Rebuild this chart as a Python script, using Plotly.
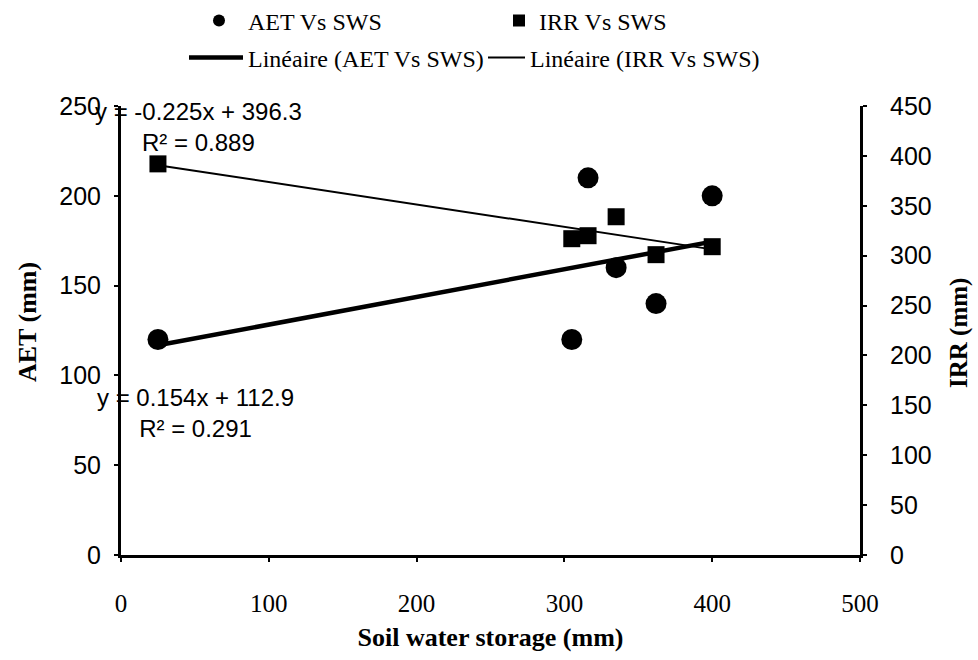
import plotly.graph_objects as go

# Soil water storage (mm) for each observation
sws = [25, 305, 316, 335, 362, 400]
# Actual evapotranspiration (mm), left axis
aet = [120, 120, 210, 160, 140, 200]
# Irrigation requirement (mm), right axis
irr = [392, 317, 320, 339, 301, 309]

# Linear fits reported on the chart
aet_slope, aet_intercept, aet_r2 = 0.154, 112.9, 0.291
irr_slope, irr_intercept, irr_r2 = -0.225, 396.3, 0.889

x_ticks = [0, 100, 200, 300, 400, 500]
aet_ticks = [0, 50, 100, 150, 200, 250]
irr_ticks = [0, 50, 100, 150, 200, 250, 300, 350, 400, 450]

SERIF = "Liberation Serif"
SANS = "Liberation Sans"
INK = "black"

fit_x = [min(sws), max(sws)]
aet_fit = [aet_slope * x + aet_intercept for x in fit_x]
irr_fit = [irr_slope * x + irr_intercept for x in fit_x]

fig = go.Figure()

fig.add_trace(go.Scatter(
    x=sws, y=aet, mode="markers", name="AET Vs SWS",
    marker=dict(symbol="circle", size=21, color=INK),
    legend="legend", yaxis="y",
))
fig.add_trace(go.Scatter(
    x=sws, y=irr, mode="markers", name="IRR Vs SWS",
    marker=dict(symbol="square", size=17, color=INK),
    legend="legend2", yaxis="y2",
))
fig.add_trace(go.Scatter(
    x=fit_x, y=aet_fit, mode="lines", name="Linéaire (AET Vs SWS)",
    line=dict(color=INK, width=4.5),
    legend="legend3", yaxis="y",
))
fig.add_trace(go.Scatter(
    x=fit_x, y=irr_fit, mode="lines", name="Linéaire (IRR Vs SWS)",
    line=dict(color=INK, width=2),
    legend="legend4", yaxis="y2",
))

# plot area in pixels, used to place the legend entries and labels
L, R, T, B = 121, 860, 106, 555
W, H = R - L, B - T


def px_x(p):
    return (p - L) / W


def px_y(p):
    return (B - p) / H


legend_font = dict(family=SERIF, size=24, color=INK)
legend_common = dict(orientation="h", xanchor="left", yanchor="middle",
                     bgcolor="rgba(0,0,0,0)", borderwidth=0, font=legend_font)

fig.update_layout(
    width=978, height=660,
    margin=dict(l=L, r=978 - R, t=T, b=660 - B, autoexpand=False),
    paper_bgcolor="white", plot_bgcolor="white",
    showlegend=True,
    legend=dict(x=px_x(190), y=px_y(21), itemwidth=48,
                itemsizing="constant", **legend_common),
    legend2=dict(x=px_x(499), y=px_y(21), itemsizing="constant",
                 **legend_common),
    legend3=dict(x=px_x(184), y=px_y(58), itemwidth=54,
                 itemsizing="trace", **legend_common),
    legend4=dict(x=px_x(483), y=px_y(58), itemwidth=37,
                 itemsizing="trace", **legend_common),
    xaxis=dict(
        range=[0, 500], tickvals=x_ticks, showgrid=False, zeroline=False,
        showline=True, linecolor=INK, linewidth=3,
        ticks="outside", ticklen=4, tickwidth=2, tickcolor=INK,
        ticklabelstandoff=20,
        tickfont=dict(family=SERIF, size=25, color=INK),
        title=dict(text="<b>Soil water storage (mm)</b>",
                   font=dict(family=SERIF, size=26, color=INK), standoff=12),
    ),
    yaxis=dict(
        range=[0, 250], tickvals=aet_ticks, showgrid=False, zeroline=False,
        showline=True, linecolor=INK, linewidth=3,
        ticks="outside", ticklen=4, tickwidth=2, tickcolor=INK,
        ticklabelstandoff=8,
        tickfont=dict(family=SANS, size=25, color=INK),
    ),
    yaxis2=dict(
        range=[0, 450], tickvals=irr_ticks, overlaying="y", side="right",
        showgrid=False, zeroline=False,
        showline=True, linecolor=INK, linewidth=3,
        ticks="outside", ticklen=4, tickwidth=2, tickcolor=INK,
        ticklabelstandoff=18,
        tickfont=dict(family=SANS, size=25, color=INK),
    ),
)

# axis titles for the two value axes
title_font = dict(family=SERIF, size=26, color=INK)
fig.add_annotation(text="<b>AET (mm)</b>", xref="paper", yref="paper",
                   x=px_x(27), y=px_y(322), xanchor="center", yanchor="middle",
                   textangle=-90, showarrow=False, font=title_font)
fig.add_annotation(text="<b>IRR (mm)</b>", xref="paper", yref="paper",
                   x=px_x(959), y=px_y(333), xanchor="center", yanchor="middle",
                   textangle=-90, showarrow=False,
                   font=dict(family=SERIF, size=25, color=INK))

# regression equations
eq_font = dict(family=SANS, size=24, color=INK)
fig.add_annotation(
    text=f"y = {irr_slope:g}x + {irr_intercept:g}<br>R² = {irr_r2:g}",
    xref="paper", yref="paper", x=px_x(198), y=px_y(127),
    xanchor="center", yanchor="middle", align="center",
    showarrow=False, font=eq_font)
fig.add_annotation(
    text=f"y = {aet_slope:g}x + {aet_intercept:g}<br>R² = {aet_r2:g}",
    xref="paper", yref="paper", x=px_x(195), y=px_y(413),
    xanchor="center", yanchor="middle", align="center",
    showarrow=False, font=eq_font)

fig.write_html("out.html")
